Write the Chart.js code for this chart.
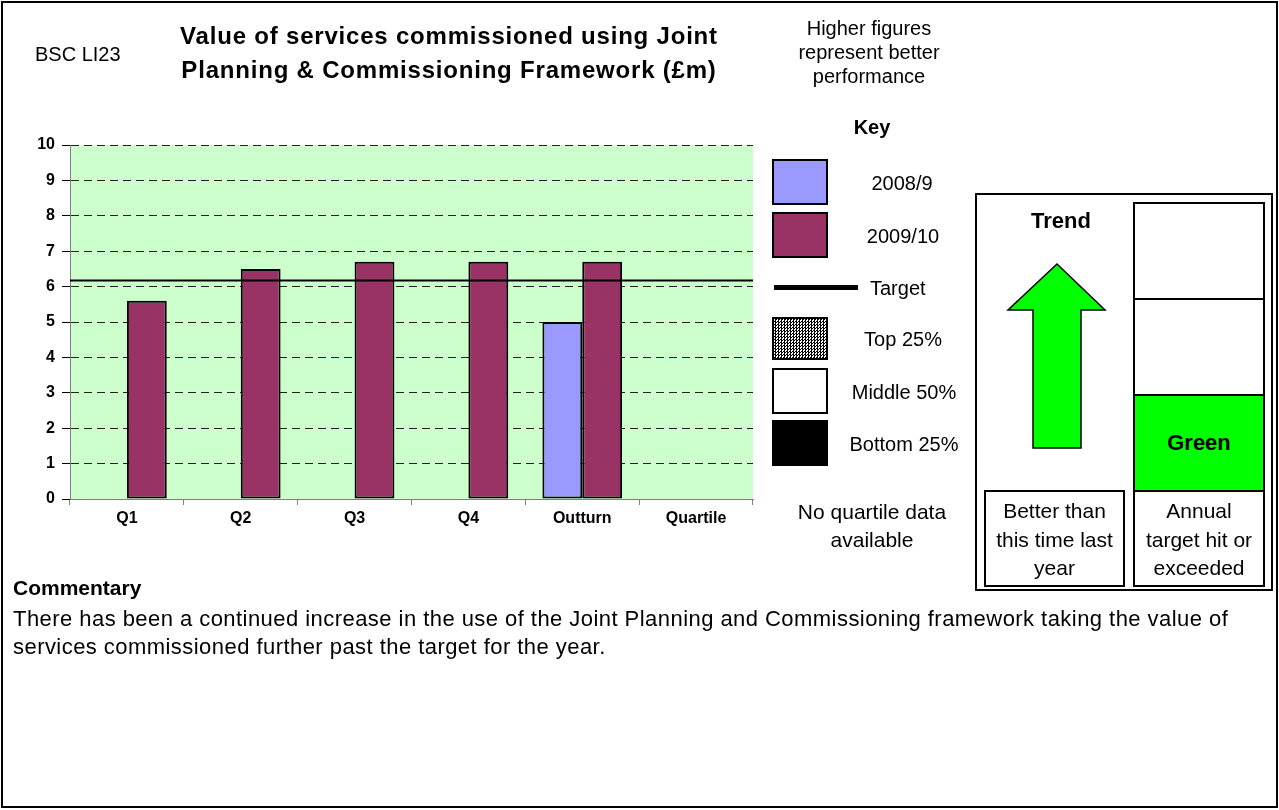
<!DOCTYPE html>
<html>
<head>
<meta charset="utf-8">
<script src="https://cdn.jsdelivr.net/npm/chart.js@4.4.1/dist/chart.umd.min.js"></script>
<style>
  html, body { margin:0; padding:0; background:#fff; }
  body { width:1279px; height:810px; position:relative; overflow:hidden; font-family:"Liberation Sans", Arial, sans-serif; color:#000; }
  #c { position:absolute; left:0; top:0; }
  .abs { position:absolute; white-space:nowrap; }
  .ctr { text-align:center; }
  .box { position:absolute; box-sizing:border-box; border:2px solid #000; }
</style>
</head>
<body>
<canvas id="c" width="1279" height="810"></canvas>

<div class="box" style="left:1px;top:1px;width:1277px;height:807px;"></div>

<div class="abs" style="left:35px;top:42px;font-size:20px;line-height:24px;">BSC LI23</div>
<div class="abs ctr" style="left:149px;width:600px;top:19px;font-size:24px;font-weight:bold;line-height:34px;letter-spacing:0.8px;">Value of services commissioned using Joint<br>Planning &amp; Commissioning Framework (£m)</div>
<div class="abs ctr" style="left:769px;width:200px;top:16px;font-size:20px;line-height:24px;">Higher figures<br>represent better<br>performance</div>

<div class="abs ctr" style="left:822px;width:100px;top:115px;font-size:20px;font-weight:bold;line-height:24px;">Key</div>

<div class="box" style="left:772px;top:159px;width:56px;height:46px;background:#9999ff;"></div>
<div class="box" style="left:772px;top:212px;width:56px;height:46px;background:#993366;"></div>
<div style="position:absolute;left:774px;top:285px;width:84px;height:5px;background:#000;"></div>
<div class="box" style="left:772px;top:317px;width:56px;height:43px;background-color:#fff;background-image:repeating-conic-gradient(#000 0 25%, #fff 0 50%);background-size:3px 3px;"></div>
<div class="box" style="left:772px;top:368px;width:56px;height:46px;background:#fff;"></div>
<div class="box" style="left:772px;top:420px;width:56px;height:46px;background:#000;"></div>

<div class="abs ctr" style="left:842px;width:120px;top:171px;font-size:20px;line-height:24px;">2008/9</div>
<div class="abs ctr" style="left:843px;width:120px;top:224px;font-size:20px;line-height:24px;">2009/10</div>
<div class="abs" style="left:870px;top:276px;font-size:20px;line-height:24px;">Target</div>
<div class="abs ctr" style="left:843px;width:120px;top:327px;font-size:20px;line-height:24px;">Top 25%</div>
<div class="abs ctr" style="left:844px;width:120px;top:380px;font-size:20px;line-height:24px;">Middle 50%</div>
<div class="abs ctr" style="left:844px;width:120px;top:432px;font-size:20px;line-height:24px;">Bottom 25%</div>

<div class="abs ctr" style="left:772px;width:200px;top:498px;font-size:21px;line-height:28px;">No quartile data<br>available</div>

<div class="box" style="left:975px;top:193px;width:298px;height:398px;"></div>
<div class="abs ctr" style="left:1001px;width:120px;top:208px;font-size:22px;font-weight:bold;line-height:26px;">Trend</div>
<svg style="position:absolute;left:0;top:0;" width="1279" height="810">
  <polygon points="1057,264 1105,310 1081,310 1081,448 1033,448 1033,310 1008,310" fill="#00ff00" stroke="#000" stroke-width="1.5"/>
</svg>
<div class="box" style="left:1133px;top:202px;width:132px;height:99px;background:#fff;"></div>
<div class="box" style="left:1133px;top:298px;width:132px;height:98px;background:#fff;"></div>
<div class="box" style="left:1133px;top:394px;width:132px;height:98px;background:#00ff00;"></div>
<div class="abs ctr" style="left:1139px;width:120px;top:430px;font-size:22px;font-weight:bold;line-height:26px;">Green</div>
<div class="box" style="left:984px;top:490px;width:141px;height:97px;"></div>
<div class="box" style="left:1133px;top:490px;width:132px;height:97px;"></div>
<div class="abs ctr" style="left:984px;width:141px;top:497px;font-size:21px;line-height:28.5px;">Better than<br>this time last<br>year</div>
<div class="abs ctr" style="left:1133px;width:132px;top:497px;font-size:21px;line-height:28.5px;">Annual<br>target hit or<br>exceeded</div>

<div class="abs" style="left:13px;top:575px;font-size:21px;font-weight:bold;line-height:26px;">Commentary</div>
<div class="abs" style="left:13px;top:605px;font-size:22px;line-height:28px;letter-spacing:0.45px;white-space:normal;width:1255px;">There has been a continued increase in the use of the Joint Planning and Commissioning framework taking the value of services commissioned further past the target for the year.</div>

<script>
const categories = ['Q1', 'Q2', 'Q3', 'Q4', 'Outturn', 'Quartile'];
const series2008 = [null, null, null, null, 5.0, null];
const series2009 = [5.6, 6.5, 6.7, 6.7, 6.7, null];
const targetValue = 6.2;
const yTicks = [0, 1, 2, 3, 4, 5, 6, 7, 8, 9, 10];

const bgPlugin = {
  id: 'plotBg',
  beforeDraw(chart) {
    const a = chart.chartArea, ctx = chart.ctx;
    ctx.save();
    ctx.fillStyle = '#ccffcc';
    ctx.fillRect(a.left, a.top, a.right - a.left, a.bottom - a.top);
    ctx.restore();
  }
};
const targetPlugin = {
  id: 'targetLine',
  afterDatasetsDraw(chart) {
    const a = chart.chartArea, ctx = chart.ctx;
    const y = Math.round(chart.scales.y.getPixelForValue(targetValue)) + 0.5;
    ctx.save();
    ctx.strokeStyle = '#000';
    ctx.lineWidth = 2;
    ctx.beginPath();
    ctx.moveTo(a.left, y);
    ctx.lineTo(a.right, y);
    ctx.stroke();
    ctx.restore();
  }
};

new Chart(document.getElementById('c'), {
  type: 'bar',
  data: {
    labels: categories,
    datasets: [
      { label: '2008/9', data: series2008, backgroundColor: '#9999ff', borderColor: '#000', borderWidth: 2, borderSkipped: false },
      { label: '2009/10', data: series2009, backgroundColor: '#993366', borderColor: '#000', borderWidth: 2, borderSkipped: false }
    ]
  },
  options: {
    responsive: false,
    animation: false,
    devicePixelRatio: 1,
    layout: { padding: { left: 20, top: 145, right: 526, bottom: 271 } },
    plugins: { legend: { display: false }, tooltip: { enabled: false }, title: { display: false } },
    datasets: { bar: { categoryPercentage: 0.70, barPercentage: 1.0 } },
    scales: {
      x: {
        afterFit(s) { s.height = 40; },
        grid: { display: true, drawOnChartArea: false, drawTicks: true, tickLength: 6, offset: true, color: '#808080', tickColor: '#808080' },
        border: { display: true, color: '#808080', width: 1 },
        ticks: { color: '#000', font: { family: 'Liberation Sans, Arial, sans-serif', size: 16, weight: 'bold' }, padding: 4, maxRotation: 0 }
      },
      y: {
        min: 0, max: 10,
        afterFit(s) { s.width = 50; },
        afterBuildTicks(s) { s.ticks = yTicks.map(v => ({ value: v })); },
        grid: {
          color: (c) => (c.tick && c.tick.value === 0) ? 'rgba(0,0,0,0)' : '#222',
          lineWidth: 1, tickLength: 8, tickColor: '#000', tickBorderDash: [], drawTicks: true
        },
        border: { display: true, color: '#808080', width: 1, dash: [8, 5] },
        ticks: { color: '#000', font: { family: 'Liberation Sans, Arial, sans-serif', size: 16, weight: 'bold' }, padding: 7 }
      }
    }
  },
  plugins: [bgPlugin, targetPlugin]
});
</script>
</body>
</html>
